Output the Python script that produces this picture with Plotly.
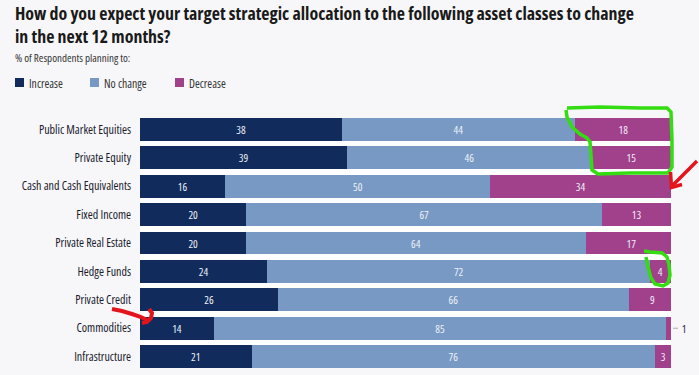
import plotly.graph_objects as go

# ---------------- data ----------------
categories = ["Public Market Equities", "Private Equity", "Cash and Cash Equivalents",
              "Fixed Income", "Private Real Estate", "Hedge Funds", "Private Credit",
              "Commodities", "Infrastructure"]
increase = [38, 39, 16, 20, 20, 24, 26, 14, 21]
no_change = [44, 46, 50, 67, 64, 72, 66, 85, 76]
decrease = [18, 15, 34, 13, 17, 4, 9, 1, 3]
series_names = ["Increase", "No change", "Decrease"]
colors = ["#112c5c", "#7799c3", "#a1408b"]

title_lines = ["How do you expect your target strategic allocation to the following asset classes to change",
               "in the next 12 months?"]
subtitle = "% of Respondents planning to:"

# ---------------- layout geometry ----------------
W, H = 699, 375
L, R, T, B = 140, 28, 118, 7
PW, PH = W - L - R, H - T - B
FONT = "Open Sans, sans-serif"


def px(x):
    return (x - L) / PW


def py(y):
    return (H - B - y) / PH


def path(points):
    return "M" + " L".join(f"{px(x):.5f},{py(y):.5f}" for x, y in points)


fig = go.Figure()
series = [increase, no_change, decrease]
for name, vals, col in zip(series_names, series, colors):
    texts = [str(v) if v > 1 else "" for v in vals]
    fig.add_trace(go.Bar(
        y=categories, x=vals, name=name, orientation="h",
        marker=dict(color=col, line=dict(width=0)),
        text=texts, textposition="inside", insidetextanchor="middle",
        constraintext="none",
        textfont=dict(family=FONT, size=11, color="#eef0f8"),
        width=0.8, showlegend=False, hoverinfo="x+name",
    ))

shapes = []
annotations = []

# title (two lines in one text block)
annotations.append(dict(xref="paper", yref="paper", x=px(13), y=py(24.5), xanchor="left",
                        yanchor="middle", align="left", text="<br>".join(title_lines),
                        showarrow=False,
                        font=dict(family=FONT, size=17.9, color="#1a1a1a", weight="bold")))

# subtitle
annotations.append(dict(xref="paper", yref="paper", x=px(13), y=py(57.5), xanchor="left",
                        yanchor="middle", align="left", text=subtitle, showarrow=False,
                        font=dict(family=FONT, size=11, color="#333333")))

# manual legend
leg_x = [15, 90, 175]
for lx, name, col in zip(leg_x, series_names, colors):
    shapes.append(dict(type="rect", xref="paper", yref="paper",
                       x0=px(lx), x1=px(lx + 9), y0=py(87), y1=py(78),
                       fillcolor=col, line=dict(width=0)))
    annotations.append(dict(xref="paper", yref="paper", x=px(lx + 11.5), y=py(82.5),
                            xanchor="left", yanchor="middle", align="left", text=name,
                            showarrow=False,
                            font=dict(family=FONT, size=11.7, color="#333333")))

# outside label for the tiny "Decrease" segment
for i, v in enumerate(decrease):
    if v <= 1:
        annotations.append(dict(xref="paper", yref="y", x=px(679), y=categories[i],
                                xanchor="left", yanchor="middle", text=str(v), showarrow=False,
                                font=dict(family=FONT, size=11, color="#1a2a4a")))
        shapes.append(dict(type="line", xref="paper", yref="y", x0=px(673), x1=px(678),
                           y0=i, y1=i, line=dict(color="#aaaaaa", width=1)))

# hand-drawn markup (green loops, red arrows)
green = "#33dd11"
red = "#e5141c"
loop1 = [(567, 108), (600, 107), (640, 108), (667, 108), (671, 112), (672, 140), (672, 167),
         (668, 173), (630, 173), (598, 174), (592, 170), (591, 155), (590, 142), (587, 138),
         (580, 134), (572, 127), (567, 117), (566, 110)]
loop2 = [(644, 251), (650, 252), (662, 253), (667, 257), (669, 265), (670, 275), (668, 283),
         (663, 286), (655, 284), (651, 278), (648, 267), (646, 257)]
arrow1_line = [(697, 161), (685, 173), (673, 185)]
arrow1_head = [(670.5, 172), (671.5, 187.5), (682, 184.5)]
arrow2_line = [(112, 309), (122, 311), (132, 314), (141, 317), (147, 320)]
arrow2_head = [(149, 309), (152, 313), (151, 318), (147, 322), (142, 323)]
for pts, col, w in [(loop1, green, 3.5), (loop2, green, 3.5), (arrow1_line, red, 3.5),
                    (arrow1_head, red, 3.5), (arrow2_line, red, 4), (arrow2_head, red, 4)]:
    shapes.append(dict(type="path", xref="paper", yref="paper", path=path(pts),
                       line=dict(color=col, width=w), layer="above"))

fig.update_layout(
    barmode="stack",
    width=W, height=H,
    margin=dict(l=L, r=R, t=T, b=B, autoexpand=False),
    paper_bgcolor="#f7f7f9",
    plot_bgcolor="#ffffff",
    xaxis=dict(range=[0, 100], showgrid=False, zeroline=False, showticklabels=False,
               showline=False, fixedrange=True),
    yaxis=dict(range=[8.4, -0.4], categoryorder="array", categoryarray=categories,
               showgrid=False, zeroline=False, showline=False, ticks="",
               ticklabelstandoff=8, fixedrange=True,
               tickfont=dict(family=FONT, size=12, color="#1a1a2e")),
    shapes=shapes,
    annotations=annotations,
)

# use the condensed width axis of the (variable) Open Sans font, then redraw so
# that all text measurements are made with the condensed face
post = (
    "document.body.style.margin='0';document.body.style.padding='0';"
    "var s=document.createElement('style');"
    "s.textContent='svg text{font-stretch:75% !important;}';"
    "document.head.appendChild(s);"
    "var gd=document.getElementById('{plot_id}');"
    "var d=JSON.parse(JSON.stringify(gd.data));"
    "var l=JSON.parse(JSON.stringify(gd.layout));"
    "Plotly.purge(gd);"
    "Plotly.newPlot(gd,d,l,{displayModeBar:false});"
)
fig.write_html("out.html", post_script=post, config={"displayModeBar": False})
